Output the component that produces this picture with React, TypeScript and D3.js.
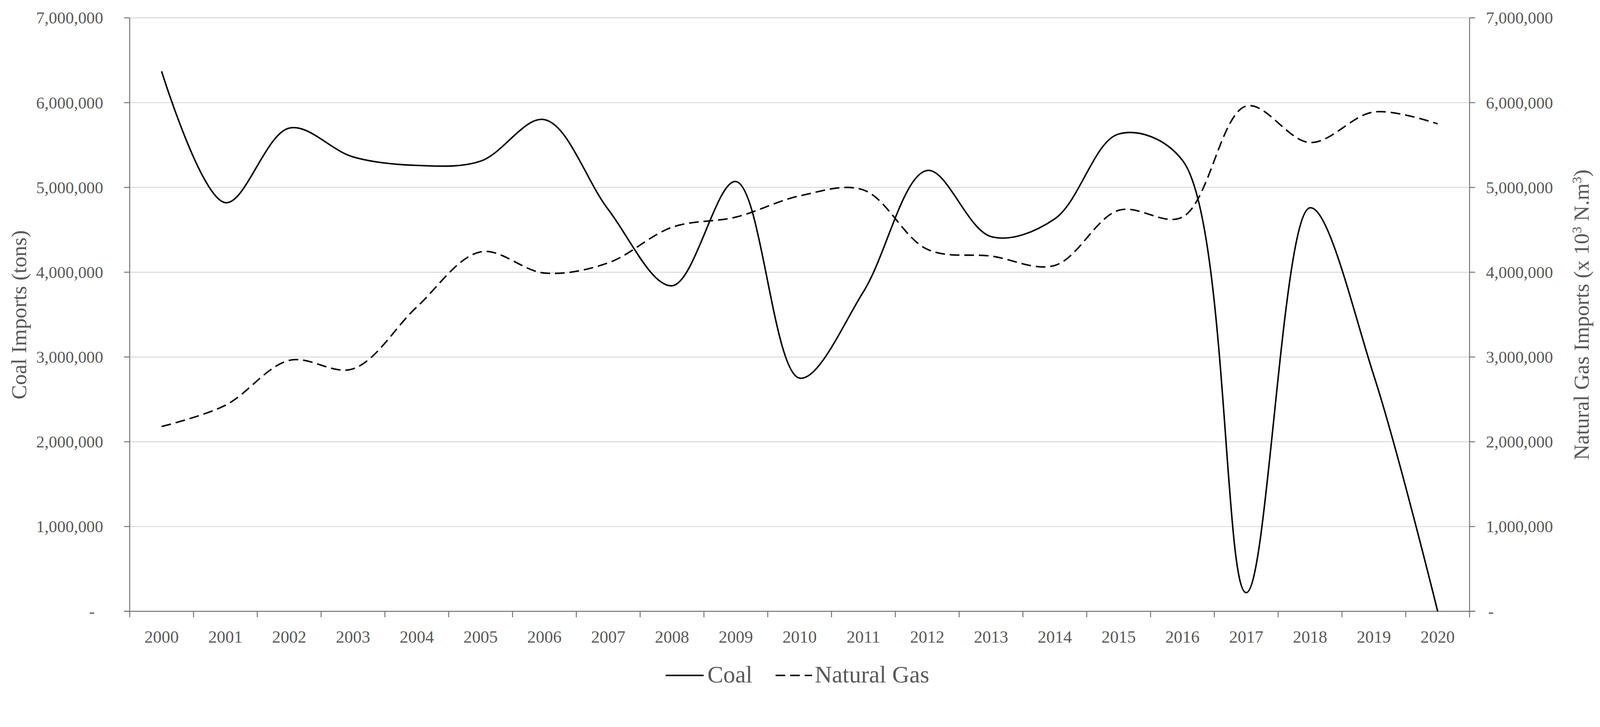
import React from "react";
import * as d3 from "d3";

const years = ["2000","2001","2002","2003","2004","2005","2006","2007","2008","2009","2010","2011","2012","2013","2014","2015","2016","2017","2018","2019","2020"];
const coalImports = [6370000,4820000,5700000,5360000,5260000,5310000,5800000,4740000,3840000,5070000,2750000,3770000,5200000,4420000,4630000,5630000,5320000,220000,4760000,2780000,0];
const gasImports = [2180000,2430000,2960000,2860000,3590000,4240000,3990000,4110000,4530000,4650000,4900000,4970000,4270000,4190000,4080000,4730000,4650000,5960000,5530000,5890000,5750000];
const yTickValues = [0,1000000,2000000,3000000,4000000,5000000,6000000,7000000];
const seriesNames = ["Coal","Natural Gas"];
const leftTitle = "Coal Imports (tons)";

const W = 4293;
const H = 1862;
const M = { left: 348, right: 3943, top: 48, bottom: 1641 };
const FONT = "'Liberation Serif', 'Times New Roman', serif";
const TXT = "#595959";
const AX = "#707070";
const GRID = "#d9d9d9";

export default function App() {
  const x = d3.scaleBand<string>().domain(years).range([M.left, M.right]).padding(0);
  const cx = (yr: string) => (x(yr) as number) + x.bandwidth() / 2;
  const yL = d3.scaleLinear().domain([0, 7000000]).range([M.bottom, M.top]);
  const yR = d3.scaleLinear().domain([0, 7000000]).range([M.bottom, M.top]);
  const fmt = d3.format(",");
  const label = (v: number) => (v === 0 ? "-" : fmt(v));

  const coalLine = d3
    .line<number>()
    .x((_, i) => cx(years[i]))
    .y((d) => yL(d))
    .curve(d3.curveCatmullRom.alpha(0.5));
  const gasLine = d3
    .line<number>()
    .x((_, i) => cx(years[i]))
    .y((d) => yR(d))
    .curve(d3.curveCatmullRom.alpha(0.5));

  const boundaries = years.map((yr) => x(yr) as number).concat([M.right]);

  return (
    <svg
      viewBox={`0 0 ${W} ${H}`}
      preserveAspectRatio="xMinYMin meet"
      style={{ position: "absolute", left: 0, top: 0, width: "100vw", height: "100vh", background: "#fff", display: "block" }}
      fontFamily={FONT}
    >
      <rect x={0} y={0} width={W} height={H} fill="#fff" />
      {/* gridlines */}
      {yTickValues.filter((v) => v > 0).map((v) => (
        <line key={"g" + v} x1={M.left} x2={M.right} y1={yL(v)} y2={yL(v)} stroke={GRID} strokeWidth={2.5} />
      ))}
      {/* left axis */}
      <line x1={M.left} x2={M.left} y1={M.top} y2={M.bottom} stroke={AX} strokeWidth={2.5} />
      {yTickValues.map((v) => (
        <line key={"lt" + v} x1={M.left - 15} x2={M.left} y1={yL(v)} y2={yL(v)} stroke={AX} strokeWidth={2.5} />
      ))}
      {yTickValues.map((v) => (
        <text
          key={"ll" + v}
          x={v === 0 ? 254 : 277}
          y={yL(v)}
          dy="0.34em"
          textAnchor="end"
          fontSize={45}
          fill={TXT}
        >
          {label(v)}
        </text>
      ))}
      {/* right axis */}
      <line x1={M.right} x2={M.right} y1={M.top} y2={M.bottom} stroke={AX} strokeWidth={2.5} />
      {yTickValues.map((v) => (
        <line key={"rt" + v} x1={M.right} x2={M.right + 15} y1={yR(v)} y2={yR(v)} stroke={AX} strokeWidth={2.5} />
      ))}
      {yTickValues.map((v) => (
        <text
          key={"rl" + v}
          x={v === 0 ? 3993 : 3987}
          y={yR(v)}
          dy="0.34em"
          textAnchor="start"
          fontSize={45}
          fill={TXT}
        >
          {label(v)}
        </text>
      ))}
      {/* bottom axis */}
      <line x1={M.left - 15} x2={M.right + 15} y1={M.bottom} y2={M.bottom} stroke={AX} strokeWidth={2.5} />
      {boundaries.map((b, i) => (
        <line key={"bt" + i} x1={b} x2={b} y1={M.bottom} y2={M.bottom + 16} stroke={AX} strokeWidth={2.5} />
      ))}
      {years.map((yr) => (
        <text key={"xl" + yr} x={cx(yr)} y={1725} textAnchor="middle" fontSize={46} fill={TXT}>
          {yr}
        </text>
      ))}
      {/* series */}
      <path d={gasLine(gasImports) || ""} fill="none" stroke="#000" strokeWidth={4} strokeDasharray="26,13" />
      <path d={coalLine(coalImports) || ""} fill="none" stroke="#000" strokeWidth={4} />
      {/* axis titles */}
      <text transform="translate(70,845) rotate(-90)" textAnchor="middle" fontSize={58} fill={TXT}>
        {leftTitle}
      </text>
      <text transform="translate(4263,845) rotate(-90)" textAnchor="middle" fontSize={58} fill={TXT}>
        {"Natural Gas Imports (x 10"}
        <tspan dy={-20} fontSize={36}>3</tspan>
        <tspan dy={20}>{" N.m"}</tspan>
        <tspan dy={-20} fontSize={36}>3</tspan>
        <tspan dy={20}>)</tspan>
      </text>
      {/* legend */}
      <line x1={1786} x2={1888} y1={1813} y2={1813} stroke="#000" strokeWidth={4} />
      <text x={1898} y={1832} fontSize={64} fill={TXT}>
        {seriesNames[0]}
      </text>
      <line x1={2081} x2={2179} y1={1813} y2={1813} stroke="#000" strokeWidth={4} strokeDasharray="26,13" />
      <text x={2186} y={1832} fontSize={64} fill={TXT}>
        {seriesNames[1]}
      </text>
    </svg>
  );
}
